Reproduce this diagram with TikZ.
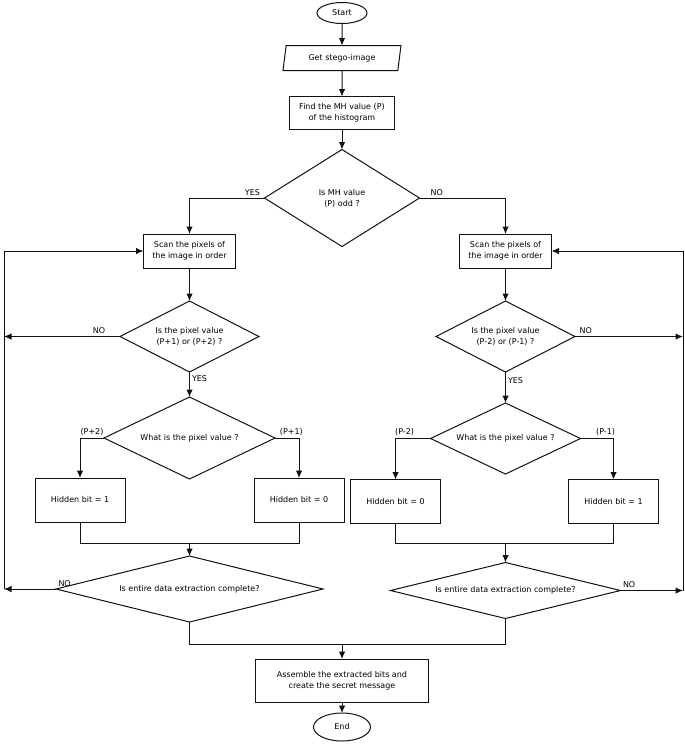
\documentclass[tikz,border=0pt]{standalone}
\usepackage{fontspec}
\setmainfont{DejaVu Sans}
\usepackage{tikz}
\usetikzlibrary{arrows.meta,positioning,calc,shapes.geometric}
\definecolor{FlowInk}{HTML}{111111}
\newcommand\flowfont{\fontsize{8}{11}\selectfont}
\tikzset{
  box/.style={draw=FlowInk,line width=1pt,fill=white,align=center,outer sep=0pt,
              minimum width=92pt,minimum height=34pt,inner sep=1pt,font=\flowfont},
  bitbox/.style={box,minimum width=90pt,minimum height=44pt},
  terminal/.style={draw=FlowInk,line width=1pt,ellipse,inner sep=1pt,outer sep=0pt,font=\flowfont},
  iobox/.style={draw=FlowInk,line width=1pt,trapezium,trapezium left angle=72,
              trapezium right angle=108,trapezium stretches body=true,outer sep=0pt,
              minimum width=118pt,minimum height=25pt,inner sep=1pt,font=\flowfont},
  decision/.style={draw=FlowInk,line width=1pt,diamond,align=center,outer sep=0pt,
              inner sep=1pt,font=\flowfont},
  line/.style={line width=1pt,draw=FlowInk},
  flow/.style={line,-{Latex[length=7.5pt,width=6.5pt]}},
  note/.style={font=\flowfont,inner sep=2pt}
}

\begin{document}
\begin{tikzpicture}[x=1pt,y=-1pt]
  \useasboundingbox (0,0) rectangle (685,745);
  \coordinate (railL) at (4,337);
  \coordinate (railR) at (683,337);

  \node[terminal,minimum width=50pt,minimum height=21pt] (start) at (342,13) {Start};
  \node[iobox,below=22pt of start] (get) {Get stego-image};
  \node[box,minimum width=105pt,minimum height=33pt,below=26pt of get] (find) {Find the MH value (P)\\of the histogram};
  \node[decision,minimum width=155pt,minimum height=97pt,aspect=1.6,below=20pt of find] (odd) {Is MH value\\(P) odd ?};

  % left branch (odd)
  \node[box,below left=36pt and 29pt of odd.west] (scanL) {Scan the pixels of\\the image in order};
  \node[decision,minimum width=139pt,minimum height=71pt,aspect=2,below=33pt of scanL] (pixL) {Is the pixel value\\(P+1) or (P+2) ?};
  \node[decision,minimum width=171pt,minimum height=82pt,aspect=2.1,below=25pt of pixL] (whatL) {What is the pixel value ?};
  \node[bitbox,below=40pt of whatL.west,xshift=-24pt] (oneL) {Hidden bit = 1};
  \node[bitbox,below=40pt of whatL.east,xshift=24pt] (zeroL) {Hidden bit = 0};
  \coordinate (joinL) at ($(whatL |- oneL.south)+(0,-21pt)$);
  \node[decision,minimum width=267pt,minimum height=66pt,aspect=4,below=13pt of joinL] (endL) {Is entire data extraction complete?};

  % right branch (even)
  \node[box,below right=36pt and 40pt of odd.east] (scanR) {Scan the pixels of\\the image in order};
  \node[decision,minimum width=139pt,minimum height=71pt,aspect=2,below=33pt of scanR] (pixR) {Is the pixel value\\(P-2) or (P-1) ?};
  \node[decision,minimum width=150pt,minimum height=71pt,aspect=2.1,below=31pt of pixR] (whatR) {What is the pixel value ?};
  \node[bitbox,below=41pt of whatR.west,xshift=-35pt] (zeroR) {Hidden bit = 0};
  \node[bitbox,below=41pt of whatR.east,xshift=33pt] (oneR) {Hidden bit = 1};
  \coordinate (joinR) at ($(whatR |- oneR.south)+(0,-20pt)$);
  \node[decision,minimum width=230pt,minimum height=56pt,aspect=4.1,below=19pt of joinR] (endR) {Is entire data extraction complete?};

  \coordinate (joinB) at ($(find |- endL.south)+(0,-22pt)$);
  \node[box,minimum width=173pt,minimum height=43pt,below=15pt of joinB] (assemble) {Assemble the extracted bits and\\create the secret message};
  \node[terminal,minimum width=57pt,minimum height=28pt,below=11pt of assemble] (stop) {End};

  \draw[flow] (start) -- (get);
  \draw[flow] (get) -- (find);
  \draw[flow] (find) -- (odd);
  \draw[flow] (odd.west) -| node[note,above,pos=0.08]{YES} (scanL);
  \draw[flow] (odd.east) -| node[note,above,pos=0.1]{NO} (scanR);

  \draw[flow] (scanL) -- (pixL);
  \draw[flow] (pixL.west) -- node[note,above,pos=0.18]{NO} (pixL.west -| railL);
  \draw[flow] (pixL) -- node[note,right,pos=0.28]{YES} (whatL);
  \draw[flow] (whatL.west) -| node[note,above,pos=0.25]{(P+2)} (oneL);
  \draw[flow] (whatL.east) -| node[note,above,pos=0.34]{(P+1)} (zeroL);
  \draw[line] (oneL) |- (joinL) -| (zeroL);
  \draw[flow] (joinL) -- (endL);
  \draw[flow] (endL.west) -- node[note,above right,pos=0]{NO} (endL.west -| railL);
  \draw[flow] (railL |- endL.west) |- (scanL);

  \draw[flow] (scanR) -- (pixR);
  \draw[flow] (pixR.east) -- node[note,above,pos=0.1]{NO} (pixR.east -| railR);
  \draw[flow] (pixR) -- node[note,right,pos=0.28]{YES} (whatR);
  \draw[flow] (whatR.west) -| node[note,above,pos=0.37]{(P-2)} (zeroR);
  \draw[flow] (whatR.east) -| node[note,above,pos=0.38]{(P-1)} (oneR);
  \draw[line] (zeroR) |- (joinR) -| (oneR);
  \draw[flow] (joinR) -- (endR);
  \draw[flow] (endR.east) -- node[note,above right,pos=0]{NO} (endR.east -| railR);
  \draw[flow] (railR |- endR.east) |- (scanR);

  \draw[line] (endL) |- (joinB) -| (endR);
  \draw[flow] (joinB) -- (assemble);
  \draw[flow] (assemble) -- (stop);
\end{tikzpicture}
\end{document}
